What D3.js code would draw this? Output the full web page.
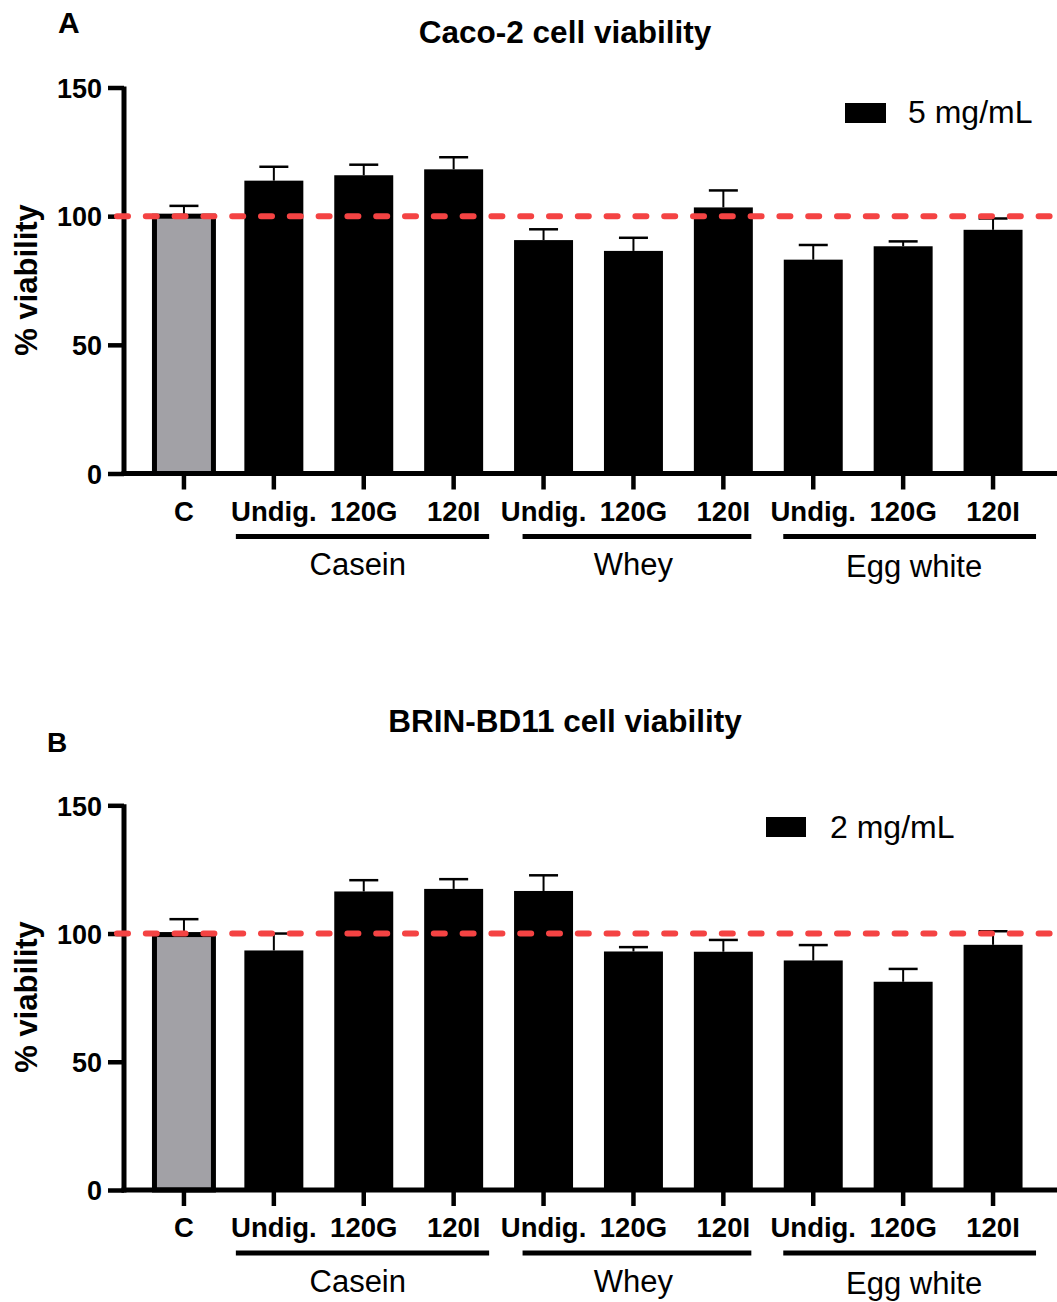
<!DOCTYPE html>
<html><head><meta charset="utf-8">
<script src="https://cdn.jsdelivr.net/npm/d3@7"></script>
<style>body{margin:0;background:#fff}svg{display:block}text{font-family:"Liberation Sans",Arial,sans-serif}</style>
</head><body>
<script>
// ---- data ----
const categoryKeys = ["C","CasUndig","Cas120G","Cas120I","WheyUndig","Whey120G","Whey120I","EggUndig","Egg120G","Egg120I"];
const categoryLabels = ["C","Undig.","120G","120I","Undig.","120G","120I","Undig.","120G","120I"];
const groupNames = ["Casein","Whey","Egg white"];
const groupFirst = [1,4,7];
const groupLast = [3,6,9];
const caco2Values = [100, 113.8, 115.9, 118.2, 90.7, 86.5, 103.4, 83.1, 88.3, 94.7];
const caco2Errors = [4.0, 5.4, 4.1, 4.7, 4.2, 5.1, 6.6, 5.7, 1.9, 4.4];
const brinValues = [99.6, 93.4, 116.4, 117.4, 116.6, 93.0, 92.9, 89.5, 81.2, 95.6];
const brinErrors = [6.0, 6.6, 4.4, 3.8, 6.1, 1.7, 4.6, 6.0, 5.0, 5.3];
const yTicks = [0, 50, 100, 150];
const referenceValue = 100;

// ---- layout ----
const W = 1057, H = 1302;
const svg = d3.select("body").append("svg").attr("width", W).attr("height", H);
const x = d3.scaleBand().domain(categoryKeys).range([139, 1038]).paddingInner(0.344).paddingOuter(0.172);
const groupLineInset = [[-8.5, 6], [8.5, -1.5], [-0.5, 13.5]];
const groupLabelShift = [-6, 0, 11];

const panels = [
  {letter:"A", letterX:58, letterY:33, letterSize:30, title:"Caco-2 cell viability", titleY:43,
   yTop:87.5, yBottom:473.5, values:caco2Values, errors:caco2Errors, legend:"5 mg/mL",
   legRect:[845,103,41,20], legTextX:908, legTextY:123, labelY:521, lineY:536.5, groupY:575, ylabY:280},
  {letter:"B", letterX:47, letterY:752, letterSize:28, title:"BRIN-BD11 cell viability", titleY:731.5,
   yTop:805.3, yBottom:1190, values:brinValues, errors:brinErrors, legend:"2 mg/mL",
   legRect:[766,817,40,20], legTextX:830, legTextY:838, labelY:1237, lineY:1253, groupY:1292, ylabY:997}
];

const axisX = 124;

panels.forEach(p => {
  const g = svg.append("g");
  const y = d3.scaleLinear().domain([0,150]).range([p.yBottom, p.yTop]);

  g.append("text").attr("x", p.letterX).attr("y", p.letterY).attr("font-size", p.letterSize)
    .attr("font-weight", "bold").text(p.letter);
  g.append("text").attr("x", 565).attr("y", p.titleY).attr("text-anchor","middle")
    .attr("font-size", 31.5).attr("font-weight","bold").text(p.title);

  // y axis
  const yAxis = d3.axisLeft(y).tickValues(yTicks).tickSize(16).tickPadding(6).tickSizeOuter(0);
  const ya = g.append("g").attr("transform", `translate(${axisX},0)`).call(yAxis);
  ya.select(".domain").attr("stroke","#000").attr("stroke-width",5).attr("d", `M0,${p.yTop-1}V${p.yBottom+2.5}`);
  ya.selectAll(".tick line").attr("stroke","#000").attr("stroke-width",4.5);
  ya.selectAll(".tick text").attr("font-size",27).attr("font-weight","bold").attr("fill","#000")
    .attr("font-family",'"Liberation Sans",Arial,sans-serif').attr("dy","0.36em");

  // y label
  g.append("text").attr("transform", `translate(37,${p.ylabY}) rotate(-90)`).attr("text-anchor","middle")
    .attr("font-size",31).attr("font-weight","bold").text("% viability");

  // bars
  const data = categoryKeys.map((k,i) => ({k, v:p.values[i], e:p.errors[i], i}));
  g.selectAll("rect.bar").data(data).join("rect").attr("class","bar")
    .attr("x", d => x(d.k)).attr("width", x.bandwidth())
    .attr("y", d => y(d.v)).attr("height", d => y(0) - y(d.v))
    .attr("fill", d => d.i === 0 ? "#a2a1a6" : "#000")
    .attr("stroke", d => d.i === 0 ? "#000" : "none").attr("stroke-width", 5);

  // error bars
  const eb = g.selectAll("g.err").data(data).join("g").attr("class","err");
  eb.append("line").attr("x1", d => x(d.k)+x.bandwidth()/2).attr("x2", d => x(d.k)+x.bandwidth()/2)
    .attr("y1", d => y(d.v)).attr("y2", d => y(d.v+d.e)).attr("stroke","#000").attr("stroke-width",2);
  eb.append("line").attr("x1", d => x(d.k)+x.bandwidth()/2-14.5).attr("x2", d => x(d.k)+x.bandwidth()/2+14.5)
    .attr("y1", d => y(d.v+d.e)).attr("y2", d => y(d.v+d.e)).attr("stroke","#000").attr("stroke-width",2.5);

  // x axis
  const xAxis = d3.axisBottom(x).tickSize(16).tickSizeOuter(0).tickFormat((d,i) => categoryLabels[i]);
  const xa = g.append("g").attr("transform", `translate(0,${y(0)})`).call(xAxis);
  xa.select(".domain").attr("stroke","#000").attr("stroke-width",5).attr("d", `M${axisX-2.5},0H${W}`);
  xa.selectAll(".tick line").attr("stroke","#000").attr("stroke-width",4.5);
  xa.selectAll(".tick text").remove();
  g.selectAll("text.xl").data(data).join("text").attr("class","xl")
    .attr("x", d => x(d.k)+x.bandwidth()/2).attr("y", p.labelY).attr("text-anchor","middle")
    .attr("font-size",27.5).attr("font-weight","bold").text(d => categoryLabels[d.i]);

  // group lines and labels
  groupNames.forEach((name, gi) => {
    const x0 = x(categoryKeys[groupFirst[gi]]) + groupLineInset[gi][0];
    const x1 = x(categoryKeys[groupLast[gi]]) + x.bandwidth() + groupLineInset[gi][1];
    g.append("line").attr("x1", x0).attr("x2", x1).attr("y1", p.lineY).attr("y2", p.lineY)
      .attr("stroke","#000").attr("stroke-width",5);
    const cx = x(categoryKeys[groupFirst[gi]+1]) + x.bandwidth()/2 + groupLabelShift[gi];
    g.append("text").attr("x", cx).attr("y", p.groupY + (gi === 2 ? 2 : 0)).attr("text-anchor","middle")
      .attr("font-size",31).text(name);
  });

  // legend
  g.append("rect").attr("x", p.legRect[0]).attr("y", p.legRect[1]).attr("width", p.legRect[2]).attr("height", p.legRect[3]).attr("fill","#000");
  g.append("text").attr("x", p.legTextX).attr("y", p.legTextY).attr("font-size",32).text(p.legend);

  // reference line
  g.append("line").attr("x1", 117).attr("x2", W).attr("y1", y(referenceValue)).attr("y2", y(referenceValue))
    .attr("stroke","#f44343").attr("stroke-width",6).attr("stroke-linecap","round").attr("stroke-dasharray","11,17.8");
});
</script>
</body></html>
